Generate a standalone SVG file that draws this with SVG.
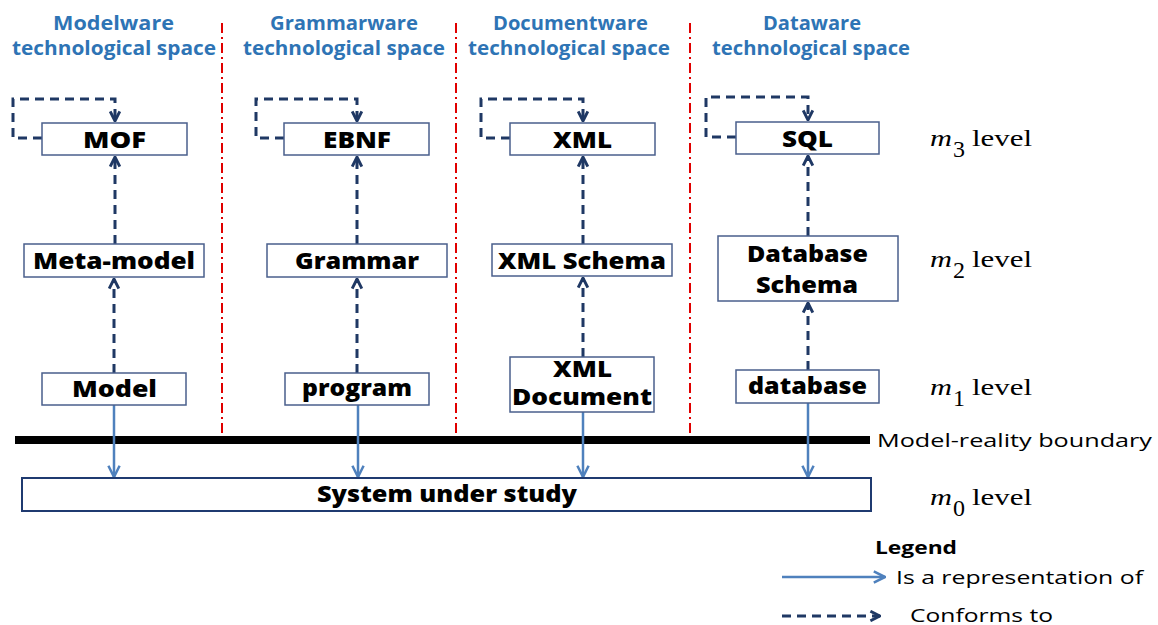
<svg xmlns="http://www.w3.org/2000/svg" width="1158" height="625" viewBox="0 0 1158 625">
<style>
.title{font-family:"Open Sans","Liberation Sans",sans-serif;font-weight:bold;font-size:19px;fill:#2e74b5}
.box{fill:#fff;stroke:#4a5f8c;stroke-width:1.5}
.sys{fill:#fff;stroke:#1f3a70;stroke-width:2}
.lbl{font-family:"Open Sans","Liberation Sans",sans-serif;font-weight:800;font-size:22px;fill:#000}
.sep{stroke:#e00000;stroke-width:2;stroke-dasharray:10 4 2 4;fill:none}
.conf{fill:none;stroke:#1f3864;stroke-width:3;stroke-dasharray:9 6}
.rep{fill:none;stroke:#4f81bd;stroke-width:2.5}
.lvl{font-family:"Liberation Serif","Times New Roman",serif;font-size:24px;fill:#000}
.reg{font-family:"Open Sans","Liberation Sans",sans-serif;font-size:18px;fill:#000}
</style>
<defs>
<marker id="aconf" viewBox="0 0 10 10" refX="9" refY="5" markerUnits="userSpaceOnUse" markerWidth="12" markerHeight="12" orient="auto">
<path d="M1,1 L9,5 L1,9" fill="none" stroke="#1f3864" stroke-width="2.4" stroke-dasharray="none"/>
</marker>
<marker id="arep" viewBox="0 0 10 10" refX="9" refY="5" markerUnits="userSpaceOnUse" markerWidth="14" markerHeight="14" orient="auto">
<path d="M1,1 L9,5 L1,9" fill="none" stroke="#4f81bd" stroke-width="1.8" stroke-dasharray="none"/>
</marker>
</defs>
<rect width="1158" height="625" fill="#fff"/>

<g id="titles">
<text class="title" x="53" y="30" textLength="121" lengthAdjust="spacingAndGlyphs">Modelware</text>
<text class="title" x="12" y="55" textLength="204" lengthAdjust="spacingAndGlyphs">technological space</text>
<text class="title" x="270" y="30" textLength="148" lengthAdjust="spacingAndGlyphs">Grammarware</text>
<text class="title" x="243" y="55" textLength="202" lengthAdjust="spacingAndGlyphs">technological space</text>
<text class="title" x="493" y="30" textLength="155" lengthAdjust="spacingAndGlyphs">Documentware</text>
<text class="title" x="468" y="55" textLength="202" lengthAdjust="spacingAndGlyphs">technological space</text>
<text class="title" x="763" y="30" textLength="98" lengthAdjust="spacingAndGlyphs">Dataware</text>
<text class="title" x="712" y="55" textLength="198" lengthAdjust="spacingAndGlyphs">technological space</text>
</g>

<g id="separators">
<line class="sep" x1="222" y1="23" x2="222" y2="433"/>
<line class="sep" x1="456" y1="23" x2="456" y2="433"/>
<line class="sep" x1="690" y1="23" x2="690" y2="433"/>
</g>

<g id="boundary">
<rect x="15" y="436" width="855" height="8" fill="#000"/>
<text class="reg" x="877" y="447" textLength="275" lengthAdjust="spacingAndGlyphs">Model-reality boundary</text>
</g>

<g id="connectors">
<path class="conf" d="M42,138 H13 V99 H115 V121" marker-end="url(#aconf)"/>
<path class="conf" d="M284,138 H256 V99 H357 V121" marker-end="url(#aconf)"/>
<path class="conf" d="M510,138 H481 V99 H583 V121" marker-end="url(#aconf)"/>
<path class="conf" d="M736,137 H706 V97 H808 V120" marker-end="url(#aconf)"/>
<line class="conf" x1="115" y1="244" x2="115" y2="157" marker-end="url(#aconf)"/>
<line class="conf" x1="357" y1="244" x2="357" y2="157" marker-end="url(#aconf)"/>
<line class="conf" x1="583" y1="244" x2="583" y2="157" marker-end="url(#aconf)"/>
<line class="conf" x1="808" y1="236" x2="808" y2="156" marker-end="url(#aconf)"/>
<line class="conf" x1="114" y1="373" x2="114" y2="279" marker-end="url(#aconf)"/>
<line class="conf" x1="357" y1="373" x2="357" y2="279" marker-end="url(#aconf)"/>
<line class="conf" x1="583" y1="357" x2="583" y2="278" marker-end="url(#aconf)"/>
<line class="conf" x1="808" y1="370" x2="808" y2="303" marker-end="url(#aconf)"/>
<line class="rep" x1="114" y1="405" x2="114" y2="477" marker-end="url(#arep)"/>
<line class="rep" x1="358" y1="405" x2="358" y2="477" marker-end="url(#arep)"/>
<line class="rep" x1="583" y1="412" x2="583" y2="477" marker-end="url(#arep)"/>
<line class="rep" x1="808" y1="403" x2="808" y2="477" marker-end="url(#arep)"/>
</g>

<g id="mof"><rect class="box" x="42" y="123" width="145" height="32"/><text class="lbl" x="83" y="148" textLength="63" lengthAdjust="spacingAndGlyphs">MOF</text></g>
<g id="ebnf"><rect class="box" x="284" y="123" width="145" height="32"/><text class="lbl" x="323" y="148" textLength="68" lengthAdjust="spacingAndGlyphs">EBNF</text></g>
<g id="xml"><rect class="box" x="510" y="123" width="145" height="32"/><text class="lbl" x="553" y="148" textLength="59" lengthAdjust="spacingAndGlyphs">XML</text></g>
<g id="sql"><rect class="box" x="736" y="122" width="143" height="32"/><text class="lbl" x="782" y="147" textLength="51" lengthAdjust="spacingAndGlyphs">SQL</text></g>

<g id="metamodel"><rect class="box" x="24" y="244" width="180" height="33"/><text class="lbl" x="33" y="269" textLength="162" lengthAdjust="spacingAndGlyphs">Meta-model</text></g>
<g id="grammar"><rect class="box" x="267" y="244" width="180" height="33"/><text class="lbl" x="295" y="269" textLength="124" lengthAdjust="spacingAndGlyphs">Grammar</text></g>
<g id="xmlschema"><rect class="box" x="492" y="244" width="180" height="32"/><text class="lbl" x="498" y="269" textLength="168" lengthAdjust="spacingAndGlyphs">XML Schema</text></g>
<g id="dbschema"><rect class="box" x="718" y="236" width="180" height="65"/><text class="lbl" x="747" y="262" textLength="121" lengthAdjust="spacingAndGlyphs">Database</text><text class="lbl" x="756" y="293" textLength="102" lengthAdjust="spacingAndGlyphs">Schema</text></g>

<g id="model"><rect class="box" x="42" y="373" width="144" height="32"/><text class="lbl" x="72" y="397" textLength="85" lengthAdjust="spacingAndGlyphs">Model</text></g>
<g id="program"><rect class="box" x="285" y="373" width="144" height="32"/><text class="lbl" x="302" y="396" textLength="110" lengthAdjust="spacingAndGlyphs">program</text></g>
<g id="xmldoc"><rect class="box" x="510" y="357" width="144" height="55"/><text class="lbl" x="553" y="377" font-size="19" textLength="59" lengthAdjust="spacingAndGlyphs">XML</text><text class="lbl" x="512" y="405" font-size="19" textLength="140" lengthAdjust="spacingAndGlyphs">Document</text></g>
<g id="database"><rect class="box" x="736" y="370" width="143" height="33"/><text class="lbl" x="748" y="394" textLength="119" lengthAdjust="spacingAndGlyphs">database</text></g>

<g id="system"><rect class="sys" x="22" y="478" width="849" height="33"/><text class="lbl" x="317" y="502" font-size="21" textLength="260" lengthAdjust="spacingAndGlyphs">System under study</text></g>

<g id="levels">
<text class="lvl" x="930" y="146" font-style="italic" textLength="22" lengthAdjust="spacingAndGlyphs">m</text><text class="lvl" x="953" y="157" font-size="12">3</text><text class="lvl" x="972" y="146" textLength="60" lengthAdjust="spacingAndGlyphs">level</text>
<text class="lvl" x="930" y="267" font-style="italic" textLength="22" lengthAdjust="spacingAndGlyphs">m</text><text class="lvl" x="953" y="278" font-size="12">2</text><text class="lvl" x="972" y="267" textLength="60" lengthAdjust="spacingAndGlyphs">level</text>
<text class="lvl" x="930" y="395" font-style="italic" textLength="22" lengthAdjust="spacingAndGlyphs">m</text><text class="lvl" x="953" y="406" font-size="12">1</text><text class="lvl" x="972" y="395" textLength="60" lengthAdjust="spacingAndGlyphs">level</text>
<text class="lvl" x="930" y="505" font-style="italic" textLength="22" lengthAdjust="spacingAndGlyphs">m</text><text class="lvl" x="953" y="516" font-size="12">0</text><text class="lvl" x="972" y="505" textLength="60" lengthAdjust="spacingAndGlyphs">level</text>
</g>

<g id="legend">
<text class="reg" x="875" y="554" font-weight="bold" font-size="17" textLength="82" lengthAdjust="spacingAndGlyphs">Legend</text>
<line class="rep" x1="782" y1="577" x2="885" y2="577" stroke-width="2" marker-end="url(#arep)"/>
<text class="reg" x="896" y="584" font-size="17" textLength="247" lengthAdjust="spacingAndGlyphs">Is a representation of</text>
<line class="conf" x1="782" y1="616" x2="880" y2="616" stroke-dasharray="12 8" marker-end="url(#aconf)"/>
<text class="reg" x="910" y="622" font-size="17" textLength="143" lengthAdjust="spacingAndGlyphs">Conforms to</text>
</g>
</svg>
